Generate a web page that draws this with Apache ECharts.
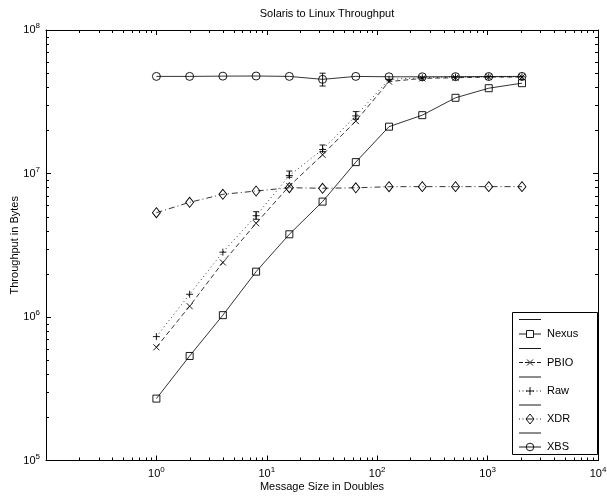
<!DOCTYPE html>
<html>
<head>
<meta charset="utf-8">
<script src="https://cdn.jsdelivr.net/npm/echarts@6/dist/echarts.min.js"></script>
<style>html,body{margin:0;padding:0;background:#fff}#c{width:607px;height:498px}</style>
</head>
<body>
<div id="c"></div>
<script>
// ---- data ----
const sizes = [1, 2, 4, 8, 16, 32, 64, 128, 256, 512, 1024, 2048];
const nexus = [2.7e5, 5.35e5, 1.03e6, 2.07e6, 3.77e6, 6.37e6, 1.2e7, 2.12e7, 2.55e7, 3.37e7, 3.93e7, 4.26e7];
const pbio  = [6.15e5, 1.19e6, 2.4e6, 4.5e6, 8.18e6, 1.35e7, 2.32e7, 4.37e7, 4.6e7, 4.65e7, 4.7e7, 4.7e7];
const raw   = [7.3e5, 1.44e6, 2.83e6, 5.08e6, 9.67e6, 1.47e7, 2.52e7, 4.53e7, 4.65e7, 4.7e7, 4.72e7, 4.72e7];
const xdr   = [5.33e6, 6.3e6, 7.16e6, 7.55e6, 7.96e6, 7.89e6, 7.95e6, 8.09e6, 8.1e6, 8.1e6, 8.1e6, 8.1e6];
const xbs   = [4.75e7, 4.75e7, 4.77e7, 4.78e7, 4.75e7, 4.53e7, 4.75e7, 4.72e7, 4.72e7, 4.73e7, 4.74e7, 4.75e7];
const rawErrX  = [8, 16, 32, 64];
const rawErrLo = [4.8e6, 9.42e6, 1.42e7, 2.39e7];
const rawErrHi = [5.42e6, 1.04e7, 1.58e7, 2.7e7];
const xbsErrX  = [32];
const xbsErrLo = [4.07e7];
const xbsErrHi = [5.0e7];
const seriesNames = ['Nexus', 'PBIO', 'Raw', 'XDR', 'XBS'];
const titleText = 'Solaris to Linux Throughput';
const xName = 'Message Size in Doubles';
const yName = 'Throughput in Bytes';
const xMin = 0.1, xMax = 10000, yMin = 1e5, yMax = 1e8;

// ---- build ----
const FONT = '"Liberation Sans", Arial, Helvetica, sans-serif';
const zip = (xs, ys) => xs.map((x, i) => [x, ys[i]]);
const xMinor = [], yMinor = [];
for (let e = -1; e < 4; e++) for (let k = 2; k <= 9; k++) xMinor.push([k * Math.pow(10, e), 1e6]);
for (let e = 5; e < 8; e++) for (let k = 2; k <= 9; k++) yMinor.push([1, k * Math.pow(10, e)]);

const SYM_X = 'path://M0,0L10,10M0,10L10,0';
const SYM_P = 'path://M5,0L5,10M0,5L10,5';

function lineSeries(name, data, symbol, size, dash) {
  return {
    type: 'line', name: name, data: data, symbol: symbol, symbolSize: size,
    showSymbol: true, animation: false, z: 5,
    lineStyle: { color: '#000', width: 0.8, type: dash },
    itemStyle: { color: 'rgba(0,0,0,0)', borderColor: '#000', borderWidth: 0.9 }
  };
}

function labelFmt(hideNeg) {
  return function (v) {
    const e = Math.round(Math.log10(v));
    if (hideNeg && e < 0) return '';
    return '{b|10}{s|' + e + '}';
  };
}
const rich = {
  b: { fontSize: 11, fontFamily: FONT, color: '#000' },
  s: { fontSize: 8, fontFamily: FONT, color: '#000', padding: [0, 0, 8, 0] }
};

const tickStyle = { show: true, inside: true, length: 5, lineStyle: { color: '#000', width: 1 } };

function minorTicks(data, isX) {
  return {
    type: 'custom', data: data, silent: true, animation: false, z: 10,
    renderItem: function (params, api) {
      const cs = params.coordSys;
      const p = api.coord([api.value(0), api.value(1)]);
      const st = { stroke: '#000', lineWidth: 1 };
      const L = 3;
      if (isX) {
        const x = Math.round(p[0]) + 0.5;
        return { type: 'group', children: [
          { type: 'line', shape: { x1: x, y1: cs.y + cs.height, x2: x, y2: cs.y + cs.height - L }, style: st },
          { type: 'line', shape: { x1: x, y1: cs.y, x2: x, y2: cs.y + L }, style: st }
        ]};
      } else {
        const y = Math.round(p[1]) + 0.5;
        return { type: 'group', children: [
          { type: 'line', shape: { x1: cs.x, y1: y, x2: cs.x + L, y2: y }, style: st },
          { type: 'line', shape: { x1: cs.x + cs.width, y1: y, x2: cs.x + cs.width - L, y2: y }, style: st }
        ]};
      }
    }
  };
}

function errorBars(xs, lo, hi) {
  return {
    type: 'custom', data: xs.map((x, i) => [x, lo[i], hi[i]]), silent: true, animation: false, z: 6,
    renderItem: function (params, api) {
      const a = api.coord([api.value(0), api.value(1)]);
      const b = api.coord([api.value(0), api.value(2)]);
      const st = { stroke: '#000', lineWidth: 0.9 };
      const w = 3;
      return { type: 'group', children: [
        { type: 'line', shape: { x1: a[0], y1: a[1], x2: b[0], y2: b[1] }, style: st },
        { type: 'line', shape: { x1: a[0] - w, y1: a[1], x2: a[0] + w, y2: a[1] }, style: st },
        { type: 'line', shape: { x1: b[0] - w, y1: b[1], x2: b[0] + w, y2: b[1] }, style: st }
      ]};
    }
  };
}

// legend (drawn as graphics, MATLAB-style with blank line rows)
const LX = 512, LY = 312, LW = 86, LH = 142;
const rowYs = [319.5, 334, 348.5, 362.5, 377, 391, 405, 419, 433, 447];
const legend = [{ type: 'rect', shape: { x: LX + 0.5, y: LY + 0.5, width: LW - 1, height: LH }, style: { fill: '#fff', stroke: '#000', lineWidth: 1 }, z: 100 }];
const dashes = [null, [4, 2], [1, 2.5], [1, 2.5], null];
const mk = [
  y => ({ type: 'rect', shape: { x: 526.5, y: y - 3.5, width: 7, height: 7 } }),
  y => ({ type: 'polyline', shape: { points: [[527, y - 3], [533, y + 3]] } }),
  y => ({ type: 'polyline', shape: { points: [[530, y - 4], [530, y + 4]] } }),
  y => ({ type: 'polygon', shape: { points: [[530, y - 5], [534, y], [530, y + 5], [526, y]] } }),
  y => ({ type: 'circle', shape: { cx: 530, cy: y, r: 3.8 } })
];
for (let i = 0; i < 5; i++) {
  const yb = rowYs[2 * i], yl = rowYs[2 * i + 1];
  legend.push({ type: 'line', shape: { x1: 519, y1: yb, x2: 541, y2: yb }, style: { stroke: '#000', lineWidth: 0.9 }, z: 101 });
  legend.push({ type: 'line', shape: { x1: 519, y1: yl, x2: 541, y2: yl }, style: { stroke: '#000', lineWidth: 0.9, lineDash: dashes[i] }, z: 101 });
  const m = mk[i](yl);
  m.style = { fill: i === 0 || i >= 3 ? '#fff' : 'none', stroke: '#000', lineWidth: 0.9 };
  m.z = 102;
  legend.push(m);
  if (i === 1) legend.push({ type: 'polyline', shape: { points: [[527, yl + 3], [533, yl - 3]] }, style: { stroke: '#000', lineWidth: 0.9 }, z: 102 });
  if (i === 2) legend.push({ type: 'polyline', shape: { points: [[526, yl], [534, yl]] }, style: { stroke: '#000', lineWidth: 0.9 }, z: 102 });
  if (i === 3 || i === 4) legend.push({ type: 'line', shape: { x1: 526, y1: yl, x2: 534, y2: yl }, style: { stroke: '#000', lineWidth: 0.9 }, z: 103 });
  legend.push({ type: 'text', x: 547, y: yl, style: { text: seriesNames[i], font: '11px ' + FONT, fill: '#000', verticalAlign: 'middle' }, z: 103 });
}

const chart = echarts.init(document.getElementById('c'), null, { renderer: 'canvas' });
chart.setOption({
  backgroundColor: '#fff',
  animation: false,
  title: { text: titleText, left: 322, top: 3, textAlign: 'center', textStyle: { fontFamily: FONT, fontSize: 11, fontWeight: 'normal', color: '#000' } },
  grid: { left: 46, right: 9, top: 30, bottom: 37.5, containLabel: false, outerBoundsMode: 'none' },
  xAxis: [
    { type: 'log', logBase: 10, min: xMin, max: xMax, name: xName, nameLocation: 'middle', nameGap: 21, nameMoveOverlap: false,
      nameTextStyle: { fontFamily: FONT, fontSize: 11, color: '#000' },
      axisLine: { show: true, lineStyle: { color: '#000', width: 1 } }, axisTick: tickStyle,
      axisLabel: { formatter: labelFmt(true), rich: rich, margin: 5, showMinLabel: true, showMaxLabel: true }, splitLine: { show: false } },
    { type: 'log', logBase: 10, min: xMin, max: xMax, position: 'top',
      axisLine: { show: true, lineStyle: { color: '#000', width: 1 } }, axisTick: tickStyle,
      axisLabel: { show: false }, splitLine: { show: false } }
  ],
  yAxis: [
    { type: 'log', logBase: 10, min: yMin, max: yMax, name: yName, nameLocation: 'middle', nameGap: 26, nameMoveOverlap: false,
      nameTextStyle: { fontFamily: FONT, fontSize: 11, color: '#000' },
      axisLine: { show: true, lineStyle: { color: '#000', width: 1 } }, axisTick: tickStyle,
      axisLabel: { formatter: labelFmt(false), rich: rich, margin: 6, showMinLabel: true, showMaxLabel: true }, splitLine: { show: false } },
    { type: 'log', logBase: 10, min: yMin, max: yMax, position: 'right',
      axisLine: { show: true, lineStyle: { color: '#000', width: 1 } }, axisTick: tickStyle,
      axisLabel: { show: false }, splitLine: { show: false } }
  ],
  series: [
    lineSeries(seriesNames[0], zip(sizes, nexus), 'rect', 7, 'solid'),
    lineSeries(seriesNames[1], zip(sizes, pbio), SYM_X, 6, [5, 3]),
    lineSeries(seriesNames[2], zip(sizes, raw), SYM_P, 7, [1, 3]),
    lineSeries(seriesNames[3], zip(sizes, xdr), 'diamond', [8, 10], [6, 3, 1, 3]),
    lineSeries(seriesNames[4], zip(sizes, xbs), 'circle', 8, 'solid'),
    errorBars(rawErrX, rawErrLo, rawErrHi),
    errorBars(xbsErrX, xbsErrLo, xbsErrHi),
    minorTicks(xMinor, true),
    minorTicks(yMinor, false)
  ],
  graphic: legend
});
</script>
</body>
</html>
